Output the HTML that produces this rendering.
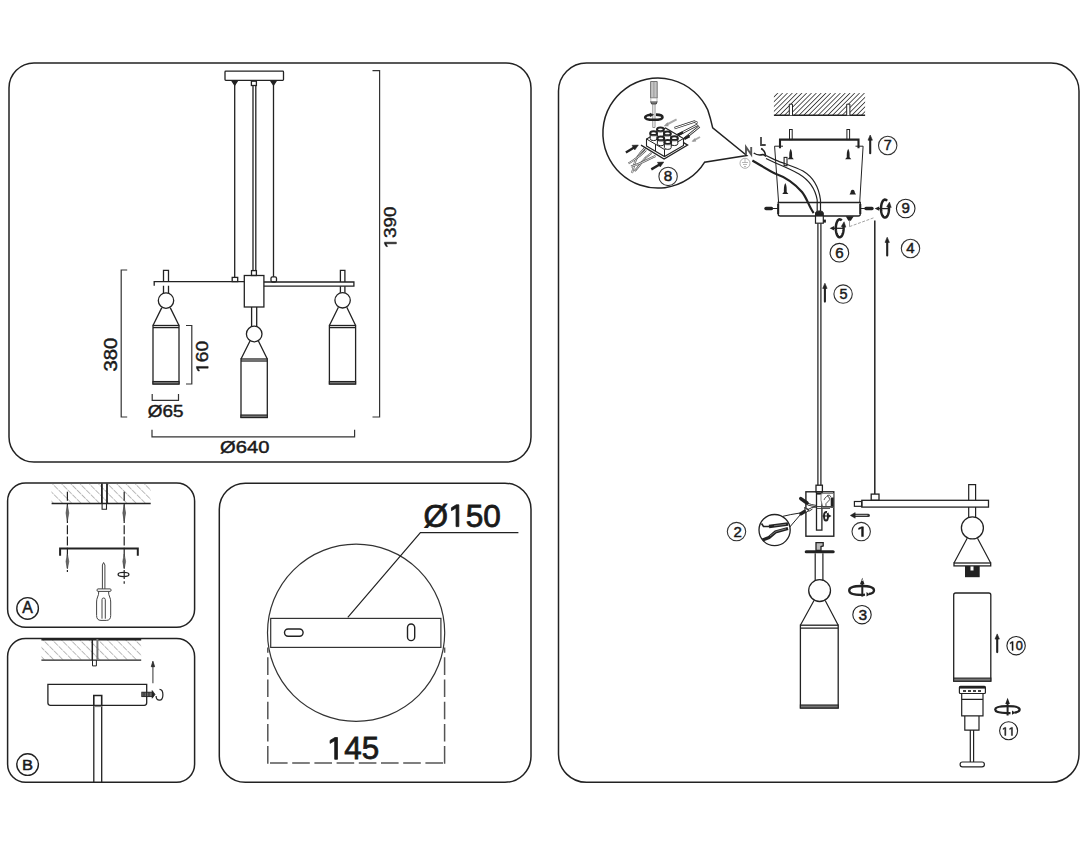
<!DOCTYPE html>
<html><head><meta charset="utf-8">
<style>
html,body{margin:0;padding:0;background:#fff;width:1088px;height:846px;overflow:hidden}
svg{display:block}
text{font-family:"Liberation Sans",sans-serif;fill:#1a1a1a}
</style></head><body>
<svg width="1088" height="846" viewBox="0 0 1088 846">
<defs>
<pattern id="hatchL" patternUnits="userSpaceOnUse" width="6.5" height="6.5" patternTransform="rotate(-45)">
<line x1="0" y1="0" x2="0" y2="6.5" stroke="#888" stroke-width="1.15" stroke-dasharray="3.5 1"/>
</pattern>
<pattern id="hatchD" patternUnits="userSpaceOnUse" width="3.4" height="3.4" patternTransform="rotate(45)">
<line x1="0" y1="0" x2="0" y2="3.4" stroke="#222" stroke-width="1.5"/>
</pattern>
</defs>
<g fill="none" stroke="#222" stroke-width="1.5">
<rect x="9" y="63" width="522" height="399" rx="25"/>
<rect x="558.5" y="63" width="520.5" height="719.3" rx="28"/>
<rect x="7.6" y="483" width="187" height="144.2" rx="18"/>
<rect x="7.6" y="638.5" width="187" height="143.7" rx="18"/>
<rect x="219.3" y="483.2" width="311.7" height="299.1" rx="26"/>
</g>
<g id="p1" fill="none" stroke="#222" stroke-width="1.3">
<rect x="225" y="71.2" width="58.5" height="9.2" rx="0.8"/>
<path d="M234.7 80.4V277.4M273.5 80.4V276.8"/>
<path d="M231.8 80.6L234.7 85L237.6 80.6Z M270.6 80.6L273.5 85L276.4 80.6Z" fill="#222"/>
<rect x="251.4" y="81.2" width="5" height="4.3"/>
<path d="M253 85.5V270.6M255.8 85.5V270.6"/>
<rect x="232.2" y="277.4" width="5.5" height="4.2"/>
<rect x="271" y="276.8" width="5.5" height="5.2" rx="1.5"/>
<rect x="251.5" y="270.6" width="4.9" height="4.9"/>
<rect x="244.3" y="275.5" width="19.6" height="31.5"/>
<path d="M154.2 285.7V281.6H244.3"/>
<path d="M263.9 282H353.9V286.2H263.9"/>
<!-- left lamp -->
<path d="M163.5 281.6V270.3H168.5V281.6M163.5 285.7V293M168.5 285.7V293"/>
<circle cx="166" cy="300.6" r="7.7"/>
<path d="M161.8 307.6L153 325.5M170.2 307.6L179 325.5"/>
<rect x="153" y="325.5" width="26" height="58.5"/>
<path d="M153 327.6H179"/><rect x="153" y="381.5" width="26" height="2.5" fill="#777" stroke-width="1.1"/>
<!-- right lamp -->
<path d="M340.4 282V270.4H344.9V282M340.4 286.2V292.8M344.9 286.2V292.8"/>
<circle cx="342.6" cy="300.3" r="7.7"/>
<path d="M338.4 307.3L329.4 325.5M346.8 307.3L355.6 325.5"/>
<rect x="329.4" y="325.5" width="26.2" height="58.5"/>
<path d="M329.4 327.6H355.6"/><rect x="329.4" y="381.5" width="26.2" height="2.5" fill="#777" stroke-width="1.1"/>
<!-- middle lamp -->
<path d="M251.6 307V326.4M256.7 307V326.4"/>
<circle cx="254.2" cy="334" r="7.8"/>
<path d="M250 341L241 359M258.4 341L267.3 359"/>
<rect x="241" y="359" width="26.3" height="58.5"/>
<path d="M241 361H267.3"/><rect x="241" y="415" width="26.3" height="2.5" fill="#777" stroke-width="1.1"/>
<!-- dims -->
<g stroke-width="1.2" stroke="#333">
<path d="M372.5 70.6H379.6V417H372.5"/>
<path d="M127.2 270H121.2V417H127.2"/>
<path d="M186 325.5H191.8V384H186"/>
<path d="M152.2 393.9V400.3H178.5V393.9"/>
<path d="M152 429.7V436.9H354.6V429.7"/>
</g>
</g>
<g transform="translate(396.38,248.56) rotate(-90)"><text x="0" y="0" font-size="17.37" textLength="41.97" lengthAdjust="spacingAndGlyphs" stroke="#1a1a1a" stroke-width="0.45"> 390</text><path d="M696 0V1409H530L215 1222V1030L515 1205V0Z" transform="translate(0.000,0) scale(0.00921,-0.00848)" fill="#1a1a1a" stroke="#1a1a1a" stroke-width="53.1"/></g>
<text transform="translate(116.88,371.55) rotate(-90)" x="0" y="0" font-size="17.66" textLength="33.81" lengthAdjust="spacingAndGlyphs" stroke="#1a1a1a" stroke-width="0.45">380</text>
<g transform="translate(208.18,373.00) rotate(-90)"><text x="0" y="0" font-size="17.08" textLength="32.12" lengthAdjust="spacingAndGlyphs" stroke="#1a1a1a" stroke-width="0.45"> 60</text><path d="M696 0V1409H530L215 1222V1030L515 1205V0Z" transform="translate(0.000,0) scale(0.00940,-0.00834)" fill="#1a1a1a" stroke="#1a1a1a" stroke-width="54.0"/></g>
<text x="147.87" y="417.27" font-size="16.93" textLength="35.70" lengthAdjust="spacingAndGlyphs" stroke="#1a1a1a" stroke-width="0.45">Ø65</text>
<text x="220.13" y="453.38" font-size="17.08" textLength="49.34" lengthAdjust="spacingAndGlyphs" stroke="#1a1a1a" stroke-width="0.45">Ø640</text>
<g id="pA" fill="none" stroke="#222" stroke-width="1.3"><rect x="51.5" y="483.8" width="99.5" height="19.7" fill="url(#hatchL)" stroke="none"/>
<path d="M51.6 503.5H150.7" stroke-width="1.4"/>
<path d="M101.9 483.5V503.5M107 483.5V503.5" stroke-width="1.8"/>
<path d="M102.1 503.5V509.3H106.5V503.5" stroke-width="1.1"/>
<path d="M67.4 491.7V572M124.2 491.7V583.7" stroke-width="1.2" stroke-dasharray="9 2.2"/>
<g stroke-width="0.6" stroke="#444" fill="#666">
<path d="M67.4 505L66 513L67.4 521L68.8 513Z M124.2 505L122.8 513L124.2 521L125.6 513Z M67.4 554L66 561.5L67.4 569L68.8 561.5Z M124.2 554L122.8 561.5L124.2 569L125.6 561.5Z"/>
</g>
<path d="M60.1 555.8V548.4H137.8V555.8" stroke-width="2"/>
<ellipse cx="123.5" cy="574.5" rx="5.4" ry="2.1" stroke-width="1.3"/>
<g stroke="#444" stroke-width="1">
<path d="M102.4 588.9V565L103.6 562.5L104.9 565V588.9"/>
<path d="M98 588.9H110.1Q111.1 588.9 111.1 590.1Q111.1 591.4 110.1 591.4H98Q97 591.4 97 590.1Q97 588.9 98 588.9Z"/>
<path d="M98.7 591.4Q98.9 594.5 97.6 597Q96.6 599 96.6 602V615.5Q96.6 620.4 101 620.4H106.3Q110.7 620.4 110.7 615.5V602Q110.7 599 109.7 597Q108.4 594.5 108.6 591.4"/>
<path d="M102 618.7V599.6Q102 598 103.65 598Q105.3 598 105.3 599.6V618.7"/>
</g>
<circle cx="27.6" cy="608.4" r="10.8" stroke-width="1.4"/>
</g>
<text x="22.22" y="612.75" font-size="15.84" textLength="10.56" lengthAdjust="spacingAndGlyphs" stroke="#1a1a1a" stroke-width="0.50">A</text>
<text x="22.09" y="769.55" font-size="15.26" textLength="11.03" lengthAdjust="spacingAndGlyphs" stroke="#1a1a1a" stroke-width="0.50">B</text>
<g id="pB" fill="none" stroke="#222" stroke-width="1.3"><rect x="41.5" y="639.5" width="99.7" height="20.6" fill="url(#hatchL)" stroke="none"/>
<path d="M41.4 639.3H141.2" stroke-width="2.2"/>
<path d="M41.4 660.1H141.2" stroke-width="1.4"/>
<path d="M92.3 639V660.1" stroke-width="1.5"/>
<path d="M97.4 639V660.1" stroke-width="2" stroke="#777"/>
<path d="M92.5 660.1V665.9H96.4V660.1" stroke-width="1"/>
<path d="M47.9 684.4H146.7V702.8Q146.7 705.3 144.2 705.3H50.4Q47.9 705.3 47.9 702.8Z" stroke-width="1.3"/>
<path d="M93.8 705.3V695.5H101.7V705.3" stroke-width="1.6"/>
<path d="M93.8 705.3V782.2M101.7 705.3V782.2" stroke-width="1.3"/>
<path d="M93.8 706.5H101.7" stroke-width="1.2" stroke="#888"/>
<path d="M152.9 683.3V666" stroke-width="1.2" stroke="#555"/>
<path d="M151.3 666.7L152.9 661.2L154.6 666.7Z" fill="#333" stroke-width="0.8"/>
<rect x="141.8" y="692.2" width="10.8" height="4.4" fill="#666" stroke="#222" stroke-width="0.9"/>
<path d="M144 692.2V696.6M146.5 692.2V696.6M149 692.2V696.6" stroke="#222" stroke-width="0.8"/>
<path d="M152.2 690.6L155 694.4L152.2 698.2Z" fill="#222" stroke="#222" stroke-width="0.8"/>
<path d="M159.5 689.3Q162.9 689.3 162.9 694.7Q162.9 700.1 159.5 700.1Q156.1 700.1 156.1 696" stroke-width="1.2"/>
<circle cx="27.6" cy="764.6" r="10.8" stroke-width="1.4"/>
</g>
<g id="p3" fill="none" stroke="#222" stroke-width="1.3"><circle cx="356.1" cy="632.7" r="88.6" stroke-width="1.2" stroke="#333"/>
<rect x="270.7" y="618.4" width="170.2" height="29" stroke-width="1.2" stroke="#333" fill="#fff"/>
<rect x="284.5" y="629" width="18.6" height="7.2" rx="3.6" stroke-width="1.4"/>
<rect x="407.5" y="624" width="7.2" height="16.6" rx="3.6" stroke-width="1.4"/>
<path d="M347.8 617.3L420.4 532.7H518.4" stroke-width="1.2"/>
<path d="M267.8 763.7V647.5M444.6 763.7V647.5M270 763H444.6" stroke-width="1.5" stroke="#555" stroke-dasharray="17.6 4.6"/>
</g>
<text x="423.61" y="526.60" font-size="31.69" textLength="77.12" lengthAdjust="spacingAndGlyphs" stroke="#1a1a1a" stroke-width="0.80">Ø 50</text><path d="M696 0V1409H530L215 1222V1030L515 1205V0Z" transform="translate(448.130,526.600) scale(0.01539,-0.01547)" fill="#1a1a1a" stroke="#1a1a1a" stroke-width="51.7"/>
<text x="326.81" y="759.30" font-size="31.69" textLength="52.31" lengthAdjust="spacingAndGlyphs" stroke="#1a1a1a" stroke-width="0.80"> 45</text><path d="M696 0V1409H530L215 1222V1030L515 1205V0Z" transform="translate(326.809,759.300) scale(0.01531,-0.01547)" fill="#1a1a1a" stroke="#1a1a1a" stroke-width="51.7"/>
<g id="p4" fill="none" stroke="#222" stroke-width="1.3"><!-- bubble 8 -->
<path d="M707.8 110 Q710.5 118 712.7 127.8 L746.7 155.5 L704.5 162.3 A55 55 0 1 1 707.8 110" stroke-width="1.5"/>
<!-- screwdriver in bubble -->
<path d="M650.6 81.5H657.2V98H650.6Z" stroke-width="0.9" stroke="#666" fill="#c4c4c4"/>
<path d="M653.9 82V98" stroke-width="0.7" stroke="#888"/>
<path d="M650.8 98H657V101.5H650.8Z" stroke-width="0.7" stroke="#999" fill="#fff"/>
<path d="M650.6 101.5L651.6 104H656.2L657.2 101.5" stroke-width="1" stroke="#444" fill="#777"/>
<path d="M652.8 104V127.5H655V104" stroke-width="0.8" stroke="#777"/>
<path d="M651 114.8Q645.2 115.5 645.2 117.4Q645.2 119.8 654 119.8Q662.5 119.8 662.5 117.2Q662.5 114.8 656 114.6" stroke-width="2.6"/>
<path d="M650 113.2L653.5 114.7L650.3 116.7Z" fill="#222" stroke="#222" stroke-width="0.6"/>
<!-- terminal block -->
<path d="M645 148C640 153 636 158 634.7 163C633.5 167 633 170 632 173" stroke="#555" stroke-width="2.0"/><path d="M645 148C640 153 636 158 634.7 163C633.5 167 633 170 632 173" stroke="#fff" stroke-width="0.8"/>
<path d="M646 150C643 153 641 155 638 157C634 160 631 162 628.5 163.5" stroke="#555" stroke-width="2.0"/><path d="M646 150C643 153 641 155 638 157C634 160 631 162 628.5 163.5" stroke="#fff" stroke-width="0.8"/>
<path d="M651.5 153C647 156 644 159 641.5 162.5C639 166 637 169 634.5 171" stroke="#555" stroke-width="2.0"/><path d="M651.5 153C647 156 644 159 641.5 162.5C639 166 637 169 634.5 171" stroke="#fff" stroke-width="0.8"/>
<path d="M655.5 156C651 158 648 159.5 645 161C640 163.5 635 165.5 631 166.5" stroke="#555" stroke-width="2.0"/><path d="M655.5 156C651 158 648 159.5 645 161C640 163.5 635 165.5 631 166.5" stroke="#fff" stroke-width="0.8"/>
<path d="M641 145.1L664.1 159.1L687.6 145.1L676 138" stroke-width="1.3" fill="#fff"/>
<path d="M646.5 146L664.5 156.5L683.5 145.5V138.5L665.5 128L646.5 139Z" stroke-width="1.1" fill="#fff"/>
<path d="M646.5 139L664.5 149.5L683.5 138.5M664.5 149.5V156.5M655.5 144.2V151" stroke-width="1"/>
<g stroke-width="1" fill="#fff">
<path d="M657.0 129.3V134.8A3.4 1.9 0 0 0 663.8 134.8V129.3Z" /><ellipse cx="660.4" cy="129.3" rx="3.4" ry="1.9" stroke-width="2"/><path d="M658.2 132.1H662.6" stroke-width="0.8" stroke="#888"/>
<path d="M650.2 133.2V138.7A3.4 1.9 0 0 0 657.0 138.7V133.2Z" /><ellipse cx="653.6" cy="133.2" rx="3.4" ry="1.9" stroke-width="2"/><path d="M651.4 136.0H655.8" stroke-width="0.8" stroke="#888"/>
<path d="M664.0 133.4V138.9A3.4 1.9 0 0 0 670.8 138.9V133.4Z" /><ellipse cx="667.4" cy="133.4" rx="3.4" ry="1.9" stroke-width="2"/><path d="M665.2 136.2H669.6" stroke-width="0.8" stroke="#888"/>
<path d="M671.0 138.2V143.7A3.4 1.9 0 0 0 677.8 143.7V138.2Z" /><ellipse cx="674.4" cy="138.2" rx="3.4" ry="1.9" stroke-width="2"/><path d="M672.2 141.0H676.6" stroke-width="0.8" stroke="#888"/>
<path d="M657.4 138.4V143.9A3.4 1.9 0 0 0 664.2 143.9V138.4Z" /><ellipse cx="660.8" cy="138.4" rx="3.4" ry="1.9" stroke-width="2"/><path d="M658.6 141.2H663.0" stroke-width="0.8" stroke="#888"/>
<path d="M664.4 142.0V147.5A3.4 1.9 0 0 0 671.2 147.5V142.0Z" /><ellipse cx="667.8" cy="142.0" rx="3.4" ry="1.9" stroke-width="2"/><path d="M665.6 144.8H670.0" stroke-width="0.8" stroke="#888"/>
</g>
<path d="M674.4 128.2L694.3 121.6L697.5 123" stroke="#333" stroke-width="2.4"/><path d="M674.4 128.2L694.3 121.6L697.5 123" stroke="#fff" stroke-width="1.0"/>
<path d="M678.1 134.9L697.9 124.6" stroke="#333" stroke-width="2.4"/><path d="M678.1 134.9L697.9 124.6" stroke="#fff" stroke-width="1.0"/>
<path d="M684.7 138.5L699.4 126.5" stroke="#333" stroke-width="2.4"/><path d="M684.7 138.5L699.4 126.5" stroke="#fff" stroke-width="1.0"/>
<path d="M677.5 135.2L683 132.3M684.2 138.8L689.5 136" stroke-width="2.6"/>
<path d="M666 125L676.6 119.4M692.8 141L700 137" stroke-width="2" stroke="#aaa"/>
<path d="M663.5 126.3L667.8 122.3L668.6 126.3Z M691.5 141.7L695 138L696.2 141.5Z" fill="#999" stroke="none"/>
<path d="M625.9 152.5L634.5 147.3" stroke-width="2.4"/><path d="M638.4 145L632 145.3L634.8 150Z" fill="#222" stroke="#222" stroke-width="0.5"/>
<path d="M651.3 169.4L660 164.2" stroke-width="2.4"/><path d="M663.8 162L657.4 162.3L660.2 167Z" fill="#222" stroke="#222" stroke-width="0.5"/>
<circle cx="668.1" cy="176.4" r="9.2" stroke-width="1.1" stroke="#333"/>
<!-- N L earth -->
<circle cx="745" cy="163.3" r="5" stroke="#999" stroke-width="0.8"/>
<path d="M742 162.5H748M743 164.5H747M744 166.5H746M745 159V162.5" stroke="#999" stroke-width="0.7"/>
<path d="M746 154.5V147L751.2 154.5V147" stroke="#555" stroke-width="1.9"/>
<path d="M761 137V145H765.7" stroke="#444" stroke-width="1.8"/>
<path d="M753.7 153Q758 156 763 154.5Q765 155 766 156.5" stroke-width="1.5"/>
<path d="M761.1 148.5Q765 150.5 765.5 155" stroke-width="1.5"/>
<!-- hatched ceiling -->
<rect x="773.9" y="93.1" width="91.2" height="22.2" fill="url(#hatchD)" stroke="none"/>
<path d="M773.9 115.3H865.1" stroke-width="1.5"/>
<path d="M789.3 115.3V104.2H792.5V115.3M846.7 115.3V104.2H849.9V115.3" stroke-width="1" fill="#fff"/>
<!-- bracket -->
<path d="M780 148.2V139.6H858.5V148.2" stroke-width="2.1"/>
<path d="M780 146.2H783M855.5 146.2H858.5" stroke-width="1"/>
<rect x="789.5" y="129.5" width="2.7" height="10.1" stroke-width="1"/>
<rect x="846.9" y="129.5" width="2.7" height="10.1" stroke-width="1"/>
<!-- canopy -->
<path d="M780 146.2H774.6L778.6 202.5M858.5 146.2H863.1L859.7 202.5" stroke-width="1"/>
<path d="M778.2 202.5H860.3V214Q860.3 216 858.3 216H780.2Q778.2 216 778.2 214Z" stroke-width="1.3"/>
<path d="M778.2 204V214M860.3 204V214" stroke-width="2"/>
<!-- screws in canopy -->
<g fill="#222" stroke="none">
<path d="M790.7 148.7C789.2 151 789.2 154.5 789.3 157.3L787.6 159.3H793.8L792.1 157.3C792.2 154.5 792.2 151 790.7 148.7Z"/>
<path d="M848.2 148.7C846.7 151 846.7 154.5 846.8 157.3L845.1 159.3H851.3L849.6 157.3C849.7 154.5 849.7 151 848.2 148.7Z"/>
<path d="M785.3 183C783.8 185.3 783.8 189 783.9 192L782.2 194H788.4L786.7 192C786.8 189 786.8 185.3 785.3 183Z"/>
<path d="M852.7 189.7C851 189.7 850.6 191.5 850.6 192.5L849.5 194.6H856L854.8 192.5C854.8 191.5 854.4 189.7 852.7 189.7Z"/>
</g>
<rect x="784.1" y="157.4" width="2.9" height="8.3" stroke-width="1.1" fill="#fff"/>
<!-- cables -->
<path d="M766 155.5L775 159.9C785 164 795 167 803 171C813 177 819 188 820.5 200V211" stroke-width="1.2"/>
<path d="M766 158.5L775 162.8C785 167 792 170 799 174C809 180 815.5 190 817.2 200V211" stroke-width="1.2"/>
<path d="M752.4 160.5C760 165 770 171 775 173.5C785 177 795 184 802 192C807 198 809 207 813.7 213" stroke-width="2.2"/>
<!-- grip -->
<path d="M815.5 216V213Q815.5 210.9 819.4 210.9Q823.3 210.9 823.3 213V216Z" fill="#222" stroke-width="1"/>
<rect x="815.5" y="216" width="7.8" height="7.2" stroke-width="1.2" fill="#fff"/>
<rect x="823.3" y="219.6" width="2.6" height="3" fill="#222" stroke="none"/>
<!-- side screws / rotation 9 -->
<path d="M766 208.5H771.5" stroke-width="3.4" stroke-linecap="round"/>
<path d="M771 208.5H778.2" stroke-width="1"/>
<path d="M860.3 208.5H865" stroke-width="1"/>
<path d="M866 208.5H872" stroke-width="3.4" stroke-linecap="round"/>
<path d="M887.00 200.81 L886.51 200.26 L885.98 199.88 L885.44 199.66 L884.90 199.60 L884.35 199.72 L883.81 200.00 L883.30 200.45 L882.82 201.05 L882.38 201.79 L881.99 202.67 L881.66 203.65 L881.39 204.73 L881.19 205.87 L881.06 207.08 L881.00 208.31 L881.02 209.54 L881.12 210.76 L881.28 211.94 L881.52 213.05 L881.83 214.08 L882.19 215.01 L882.61 215.81 L883.07 216.48 L883.57 217.00 L884.09 217.36 L884.63 217.56 L885.18 217.59 L885.73 217.45 L886.26 217.14 L886.77 216.67 L887.24 216.05 L887.68 215.29 L888.06 214.40 L888.38 213.40 L888.64 212.31 L888.84 211.16 L888.95 209.95 L889.00 208.72 L888.97 207.48 L888.86 206.27" stroke-width="2.5"/><path d="M886.66 206.77L889.46 202.07L891.26 207.47Z" fill="#222" stroke="#222" stroke-width="0.5"/><path d="M878.1 208.6H889.6" stroke-width="1.3"/><path d="M874.6 208.6L879.1 206.4V210.8Z" fill="#222" stroke="none"/>
<circle cx="905.7" cy="208.5" r="9.3" stroke-width="1.1"/>
<!-- hook & dashed -->
<path d="M845.7 216.2H853.8L850.8 220.7H848.4Z" fill="#222" stroke="none"/>
<path d="M849.5 220.7V226.6" stroke-width="0.8" stroke="#888"/>
<path d="M849.5 226.6L874.8 217.4" stroke-width="0.9" stroke="#999" stroke-dasharray="3 1.5"/>
<!-- suspension wire -->
<path d="M874.8 220.4V494.1" stroke-width="1.5"/>
<!-- rotation 6 -->
<path d="M841.65 220.51 L841.17 219.96 L840.66 219.58 L840.13 219.36 L839.60 219.30 L839.06 219.42 L838.54 219.70 L838.04 220.15 L837.58 220.75 L837.15 221.49 L836.77 222.37 L836.44 223.35 L836.18 224.43 L835.98 225.57 L835.86 226.78 L835.80 228.01 L835.82 229.24 L835.91 230.46 L836.08 231.64 L836.31 232.75 L836.61 233.78 L836.96 234.71 L837.37 235.51 L837.82 236.18 L838.30 236.70 L838.81 237.06 L839.34 237.26 L839.88 237.29 L840.41 237.15 L840.93 236.84 L841.42 236.37 L841.89 235.75 L842.31 234.99 L842.68 234.10 L843.00 233.10 L843.25 232.01 L843.44 230.86 L843.56 229.65 L843.60 228.42 L843.57 227.18 L843.47 225.97" stroke-width="2.5"/><path d="M841.27 226.47L844.07 221.77L845.87 227.17Z" fill="#222" stroke="#222" stroke-width="0.5"/><path d="M833.1 228.3H843.9" stroke-width="1.3"/><path d="M829.6 228.3L834.1 226.1V230.5Z" fill="#222" stroke="none"/>
<circle cx="839.4" cy="252.7" r="9.3" stroke-width="1.1"/>
<!-- arrows 7, 4, 5 -->
<path d="M870.2 153.2V139.7" stroke-width="2.1" stroke-linecap="round"/><path d="M868.0 140.2L870.2 135.0L872.4 140.2Z" fill="#222" stroke="#222" stroke-width="0.6" stroke-linejoin="round"/>
<circle cx="887.7" cy="145.5" r="9.2" stroke-width="1.1" stroke="#333"/>
<path d="M887.2 255.5V241.9" stroke-width="2.1" stroke-linecap="round"/><path d="M885.0 242.4L887.2 237.2L889.4 242.4Z" fill="#222" stroke="#222" stroke-width="0.6" stroke-linejoin="round"/>
<circle cx="910.5" cy="248.5" r="9.2" stroke-width="1.1" stroke="#333"/>
<path d="M824.9 301.6V287.9" stroke-width="2.1" stroke-linecap="round"/><path d="M822.7 288.4L824.9 283.2L827.1 288.4Z" fill="#222" stroke="#222" stroke-width="0.6" stroke-linejoin="round"/>
<circle cx="843.1" cy="294.1" r="9.2" stroke-width="1.1" stroke="#333"/>
<!-- central rod -->
<path d="M817.9 223.2V485.2M820.9 223.2V485.2" stroke-width="1.35" stroke="#333"/>
<rect x="816" y="485.2" width="6.4" height="6.6" stroke-width="1.3"/>
<!-- housing -->
<rect x="805.9" y="491.8" width="27.9" height="44.4" stroke-width="1.4"/>
<rect x="816.5" y="491.8" width="5.4" height="38.3" stroke-width="1.3" fill="#fff"/>
<path d="M816.5 493.5H821.9" stroke-width="2.2"/>
<path d="M821 494Q820 500 823 507.5H833.5V493.5H823Z" stroke-width="0.9" stroke="#777" fill="#fff"/>
<path d="M824 500Q826 495 829 497Q831 500 827.5 502Q825 503.5 826 506M827 495.5Q830 494 831 497" stroke-width="1" stroke="#555"/>
<path d="M832.2 497.5V507.5" stroke-width="3"/>
<path d="M816.5 506.5H833M816.5 508.4H830" stroke-width="1" stroke="#444"/>
<path d="M827 512Q824 511.5 824 516Q824 520.5 826 520.5Q828 520.5 828 516Q828 514 827.5 513" stroke-width="2"/>
<path d="M822.5 516H829.5" stroke-width="1.1"/><path d="M831.5 516L828.5 514.2V517.8Z" fill="#222" stroke="none"/>
<path d="M800.8 498.6L807 503" stroke-width="3.6" stroke-linecap="round"/>
<path d="M807 503L811.5 504.5L816.5 505.5M807.5 505L812 506L816.5 507" stroke-width="0.9"/>
<path d="M801 513.8L807 510" stroke-width="3.4" stroke-linecap="round"/>
<path d="M807 510L812 507.5L816.5 507M808.5 511.5L812.5 509" stroke-width="0.9"/>
<path d="M804.5 507.5L808.5 510.5L806 512.5Z" stroke-width="0.9" fill="#fff"/>
<!-- callout 2 -->
<circle cx="774.6" cy="530.1" r="15.6" stroke-width="1.3"/>
<path d="M783 516.3Q790 514.5 800 513M789.8 527L800.5 514.5" stroke-width="1"/>
<path d="M761.5 523.5L763.5 526.5H769" stroke-width="1.6"/>
<path d="M769 526.5L788 524" stroke-width="3.6"/>
<path d="M774 525.8L786 524.3" stroke-width="0.8" stroke="#888"/>
<path d="M762.5 540L769 537.5L775.5 532L788 528.5" stroke-width="3.2"/>
<path d="M770 536L776 531.5L786 528.8" stroke-width="0.8" stroke="#888"/>
<circle cx="736.5" cy="531.6" r="9.2" stroke-width="1.1" stroke="#333"/>
<!-- arrow 1 -->
<path d="M854 515.4H868.3" stroke-width="3.2" stroke="#333" stroke-linecap="round"/>
<path d="M855 515.4H867.5" stroke-width="1.1" stroke="#aaa"/>
<path d="M850.3 515.4L855.2 512.6V518.2Z" fill="#222" stroke="#222" stroke-width="0.5"/>
<circle cx="861.2" cy="531.6" r="9.2" stroke-width="1.1" stroke="#333"/>
<!-- bar -->
<rect x="861.8" y="500.3" width="126.7" height="6.8" stroke-width="1.3"/>
<rect x="854.4" y="501.5" width="7.4" height="4.8" stroke-width="1.2"/>
<rect x="871.2" y="494.1" width="7.8" height="6.2" stroke-width="1.3"/>
<!-- right lamp -->
<path d="M968.7 500.3V484.6H975.6V500.3M968.7 507.1V517.6M975.6 507.1V517.6" stroke-width="1.2"/>
<circle cx="972.4" cy="527.9" r="11" stroke-width="1.3"/>
<path d="M967.2 538.3L954 563M977.5 538.3L990.7 563" stroke-width="1.2"/>
<rect x="954" y="563" width="36.7" height="2.9" stroke-width="1.3"/>
<path d="M965 566H979.7V577.2H965Z" fill="#222" stroke="none"/>
<rect x="970.5" y="566.5" width="3" height="4" fill="#fff" stroke="none"/>
<!-- plate & lower lamp -->
<path d="M806.2 551.8H833.2" stroke-width="3" stroke-linecap="round"/>
<path d="M816 550.5V542.6H823.2V546L821 546.5V550.5Z" stroke-width="1.3" fill="#bbb"/>
<path d="M815.2 553.3V580.8M822.9 553.3V580.8" stroke-width="1.2"/>
<circle cx="819.6" cy="590.6" r="10.9" stroke-width="1.3"/>
<path d="M814 600.5L800.4 625.2M825.2 600.5L838.2 625.2" stroke-width="1.2"/>
<rect x="800.4" y="625.2" width="37.8" height="82.8" stroke-width="1.3"/>
<path d="M800.4 628.1H838.2" stroke-width="1.1"/><rect x="800.4" y="705" width="37.8" height="3" fill="#777" stroke-width="1.1"/>
<!-- rotation 3 -->
<path d="M865 594.6Q863.5 594.8 861.6 594.8Q849.2 594.8 849.2 590.4Q849.2 586 861.6 586Q874 586 874 590.4Q874 593 869 594" stroke-width="2.3"/>
<path d="M866.5 592L870 594.5L866.5 596.5Z" fill="#222" stroke="none"/>
<path d="M862.3 596.6V583" stroke-width="2"/><path d="M859.9 584.3L862.3 577.8L864.5 584.3Z" fill="#222" stroke="none"/>
<path d="M861.5 580.8L862.3 579L863.1 580.8Z" fill="#fff" stroke="none"/>
<circle cx="862" cy="614.7" r="9.2" stroke-width="1.1"/>
<!-- shade -->
<path d="M953.7 681.2V595Q953.7 593 955.7 593H988.8Q990.8 593 990.8 595V681.2Z" stroke-width="1.3"/>
<rect x="953.7" y="678.1" width="37.1" height="3.1" fill="#777" stroke-width="1.1"/>
<path d="M997.2 652.1V638.6" stroke-width="2.1" stroke-linecap="round"/><path d="M995.0 639.1L997.2 633.9L999.4 639.1Z" fill="#222" stroke="#222" stroke-width="0.6" stroke-linejoin="round"/>
<circle cx="1016.1" cy="645.7" r="9.2" stroke-width="1.1"/>
<!-- holder -->
<rect x="959.4" y="686.4" width="26" height="7.1" rx="1" stroke-width="1.2"/>
<path d="M959.4 687.6H985.4" stroke-width="2"/>
<path d="M963 691H966M968 691H971M973 691H976M978 691H981" stroke-width="2" stroke="#444"/>
<path d="M961.7 693.5V715.9H983V693.5M961.7 699.4H983" stroke-width="1.2"/>
<path d="M964.8 715.9V730.1H979V715.9" stroke-width="1.2"/>
<path d="M970.3 730.1V762M973.6 730.1V762" stroke-width="1.2"/>
<rect x="960.1" y="762" width="24.3" height="4.8" rx="2.4" stroke-width="1.2"/>
<!-- rotation 11 -->
<path d="M1010.5 713.1Q1009 713.1 1007.4 713.1Q995.2 713.1 995.2 709.6Q995.2 706.1 1007.4 706.1Q1019.6 706.1 1019.6 709.6Q1019.6 712 1014.5 712.6" stroke-width="2.3"/>
<path d="M1012 710.5L1015.5 712.8L1012 714.8Z" fill="#222" stroke="none"/>
<path d="M1007.6 715.5V703" stroke-width="2"/><path d="M1005.3 704L1007.6 697.7L1009.9 704Z" fill="#222" stroke="none"/>
<circle cx="1008.6" cy="730.8" r="9" stroke-width="1.1"/>
</g>
<text x="663.86" y="181.28" font-size="14.17" textLength="8.47" lengthAdjust="spacingAndGlyphs" stroke="#1a1a1a" stroke-width="0.45">8</text>
<text x="883.69" y="150.38" font-size="14.17" textLength="8.01" lengthAdjust="spacingAndGlyphs" stroke="#1a1a1a" stroke-width="0.45">7</text>
<text x="901.52" y="213.38" font-size="14.17" textLength="8.37" lengthAdjust="spacingAndGlyphs" stroke="#1a1a1a" stroke-width="0.45">9</text>
<text x="835.16" y="257.57" font-size="14.17" textLength="8.38" lengthAdjust="spacingAndGlyphs" stroke="#1a1a1a" stroke-width="0.45">6</text>
<text x="906.38" y="253.38" font-size="14.17" textLength="8.33" lengthAdjust="spacingAndGlyphs" stroke="#1a1a1a" stroke-width="0.45">4</text>
<text x="839.40" y="298.98" font-size="14.17" textLength="8.04" lengthAdjust="spacingAndGlyphs" stroke="#1a1a1a" stroke-width="0.45">5</text>
<text x="733.42" y="536.58" font-size="14.17" textLength="8.36" lengthAdjust="spacingAndGlyphs" stroke="#1a1a1a" stroke-width="0.45">2</text>
<text x="858.43" y="619.58" font-size="14.17" textLength="8.62" lengthAdjust="spacingAndGlyphs" stroke="#1a1a1a" stroke-width="0.45">3</text>
<text x="856.50" y="536.57" font-size="14.17" textLength="11.25" lengthAdjust="spacingAndGlyphs" stroke="#1a1a1a" stroke-width="0.45"> </text><path d="M696 0V1409H530L215 1222V1030L515 1205V0Z" transform="translate(856.502,536.575) scale(0.00988,-0.00692)" fill="#1a1a1a" stroke="#1a1a1a" stroke-width="65.0"/>
<text x="1008.79" y="650.38" font-size="12.86" textLength="14.19" lengthAdjust="spacingAndGlyphs" stroke="#1a1a1a" stroke-width="0.45"> 0</text><path d="M696 0V1409H530L215 1222V1030L515 1205V0Z" transform="translate(1008.786,650.375) scale(0.00623,-0.00628)" fill="#1a1a1a" stroke="#1a1a1a" stroke-width="71.6"/>
<text x="1001.77" y="735.48" font-size="11.70" textLength="13.29" lengthAdjust="spacingAndGlyphs" stroke="#1a1a1a" stroke-width="0.45">  </text><path d="M696 0V1409H530L215 1222V1030L515 1205V0Z" transform="translate(1001.771,735.475) scale(0.00583,-0.00571)" fill="#1a1a1a" stroke="#1a1a1a" stroke-width="78.8"/><path d="M696 0V1409H530L215 1222V1030L515 1205V0Z" transform="translate(1008.415,735.475) scale(0.00583,-0.00571)" fill="#1a1a1a" stroke="#1a1a1a" stroke-width="78.8"/>
</svg>
</body></html>
